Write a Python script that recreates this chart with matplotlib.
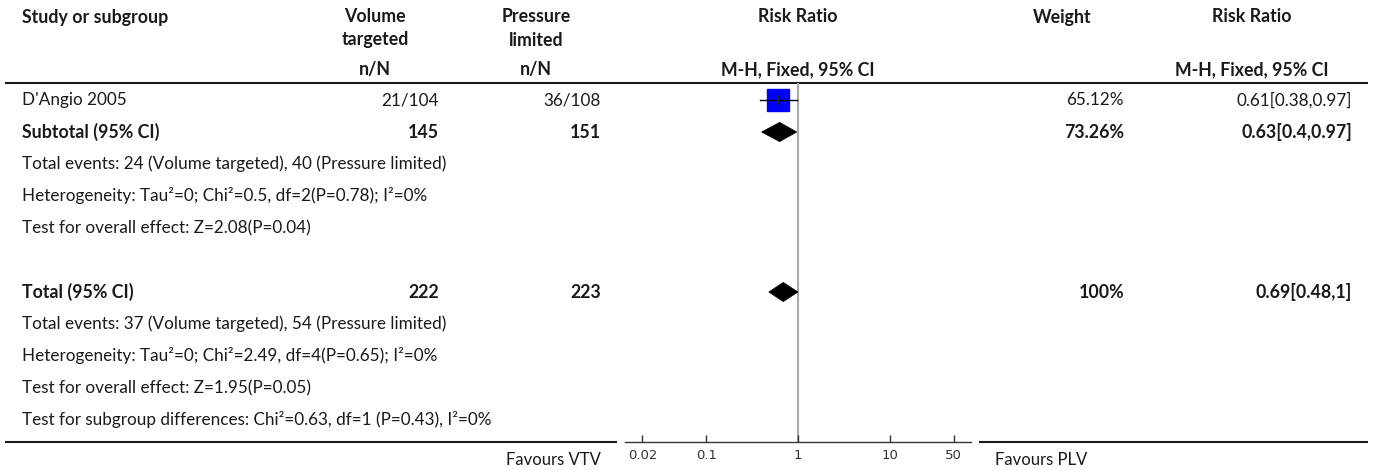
import matplotlib
matplotlib.use("Agg")
import matplotlib.pyplot as plt
from matplotlib.patches import Polygon
from matplotlib.ticker import NullLocator

# ---- data -------------------------------------------------------------
study_names = ["D'Angio 2005"]
vt_events = [21]
vt_totals = [104]
pl_events = [36]
pl_totals = [108]
study_weights = [65.12]
study_rr = [0.61]
study_lo = [0.38]
study_hi = [0.97]

subtotal_n = [145, 151]
subtotal_weight = 73.26
subtotal_rr, subtotal_lo, subtotal_hi = 0.63, 0.4, 0.97

total_n = [222, 223]
total_weight = 100
total_rr, total_lo, total_hi = 0.69, 0.48, 1

subtotal_notes = [
    "Total events: 24 (Volume targeted), 40 (Pressure limited)",
    "Heterogeneity: Tau\u00b2=0; Chi\u00b2=0.5, df=2(P=0.78); I\u00b2=0%",
    "Test for overall effect: Z=2.08(P=0.04)",
]
total_notes = [
    "Total events: 37 (Volume targeted), 54 (Pressure limited)",
    "Heterogeneity: Tau\u00b2=0; Chi\u00b2=2.49, df=4(P=0.65); I\u00b2=0%",
    "Test for overall effect: Z=1.95(P=0.05)",
    "Test for subgroup differences: Chi\u00b2=0.63, df=1 (P=0.43), I\u00b2=0%",
]

tick_values = [0.02, 0.1, 1, 10, 50]
tick_labels = ["0.02", "0.1", "1", "10", "50"]
favours_left = "Favours VTV"
favours_right = "Favours PLV"

# ---- layout -----------------------------------------------------------
W, H, DPI = 1375, 470, 100
ROW0, ROWH = 100, 32           # pixel y of first row, row pitch
TXT = "#1a1a1a"
FS = 12.3
FS_BOLD = 12.8

plt.rcParams["font.family"] = ["Lato", "DejaVu Sans"]

fig = plt.figure(figsize=(W / DPI, H / DPI), dpi=DPI)
fig.patch.set_facecolor("white")

canvas = fig.add_axes([0, 0, 1, 1])
canvas.set_xlim(0, W)
canvas.set_ylim(H, 0)
canvas.axis("off")


def row_y(i):
    return ROW0 + ROWH * i


def put(x, y, s, ha="left", bold=False):
    canvas.text(x, y, s, ha=ha, va="center", color=TXT,
                fontsize=FS_BOLD if bold else FS,
                fontweight="bold" if bold else "normal")


X_LEFT = 22
X_VT_HEAD, X_VT_VAL = 375, 439
X_PL_HEAD, X_PL_VAL = 536, 601
X_RR_HEAD = 798
X_W_HEAD, X_W_VAL = 1062, 1124
X_CI_HEAD, X_CI_VAL = 1252, 1352

# header
put(X_LEFT, 17, "Study or subgroup", bold=True)
put(X_VT_HEAD, 17, "Volume", ha="center", bold=True)
put(X_VT_HEAD, 40, "targeted", ha="center", bold=True)
put(X_PL_HEAD, 17, "Pressure", ha="center", bold=True)
put(X_PL_HEAD, 40, "limited", ha="center", bold=True)
put(X_RR_HEAD, 17, "Risk Ratio", ha="center", bold=True)
put(X_W_HEAD, 17, "Weight", ha="center", bold=True)
put(X_CI_HEAD, 17, "Risk Ratio", ha="center", bold=True)
put(X_VT_HEAD, 70, "n/N", ha="center", bold=True)
put(X_PL_HEAD, 70, "n/N", ha="center", bold=True)
put(X_RR_HEAD, 70, "M-H, Fixed, 95% CI", ha="center", bold=True)
put(X_CI_HEAD, 70, "M-H, Fixed, 95% CI", ha="center", bold=True)

canvas.plot([5, 1368], [83, 83], color=TXT, lw=1.5, solid_capstyle="butt")

# study rows
row = 0
for k, name in enumerate(study_names):
    y = row_y(row)
    put(X_LEFT, y, name)
    put(X_VT_VAL, y, f"{vt_events[k]}/{vt_totals[k]}", ha="right")
    put(X_PL_VAL, y, f"{pl_events[k]}/{pl_totals[k]}", ha="right")
    put(X_W_VAL, y, f"{study_weights[k]:.2f}%", ha="right")
    put(X_CI_VAL, y, f"{study_rr[k]:g}[{study_lo[k]:g},{study_hi[k]:g}]", ha="right")
    row += 1

subtotal_row = row
y = row_y(row)
put(X_LEFT, y, "Subtotal (95% CI)", bold=True)
put(X_VT_VAL, y, str(subtotal_n[0]), ha="right", bold=True)
put(X_PL_VAL, y, str(subtotal_n[1]), ha="right", bold=True)
put(X_W_VAL, y, f"{subtotal_weight:.2f}%", ha="right", bold=True)
put(X_CI_VAL, y, f"{subtotal_rr:g}[{subtotal_lo:g},{subtotal_hi:g}]", ha="right", bold=True)
row += 1
for s in subtotal_notes:
    put(X_LEFT, row_y(row), s)
    row += 1
row += 1

total_row = row
y = row_y(row)
put(X_LEFT, y, "Total (95% CI)", bold=True)
put(X_VT_VAL, y, str(total_n[0]), ha="right", bold=True)
put(X_PL_VAL, y, str(total_n[1]), ha="right", bold=True)
put(X_W_VAL, y, f"{total_weight:g}%", ha="right", bold=True)
put(X_CI_VAL, y, f"{total_rr:g}[{total_lo:g},{total_hi:g}]", ha="right", bold=True)
row += 1
for s in total_notes:
    put(X_LEFT, row_y(row), s)
    row += 1

# bottom rule, broken around the scale
AX_Y = 442
canvas.plot([5, 617], [AX_Y, AX_Y], color=TXT, lw=1.5, solid_capstyle="butt")
canvas.plot([979, 1368], [AX_Y, AX_Y], color=TXT, lw=1.5, solid_capstyle="butt")

# ---- forest panel -----------------------------------------------------
FX0, FX1, FY_TOP = 625, 971, 83
ax = fig.add_axes([FX0 / W, 1 - AX_Y / H, (FX1 - FX0) / W, (AX_Y - FY_TOP) / H])
ax.patch.set_alpha(0)
ax.set_xscale("log")
ax.set_xlim(10 ** -1.89, 10 ** 1.89)
ax.set_ylim((AX_Y - ROW0) / ROWH, (FY_TOP - ROW0) / ROWH)
for side in ("top", "left", "right"):
    ax.spines[side].set_visible(False)
ax.spines["bottom"].set_color("#333333")
ax.spines["bottom"].set_linewidth(1.0)
ax.set_yticks([])
ax.set_xticks(tick_values)
ax.set_xticklabels(tick_labels, fontfamily="DejaVu Sans", fontsize=9.5, color=TXT)
ax.xaxis.set_minor_locator(NullLocator())
ax.tick_params(axis="x", direction="in", length=5, width=1, colors="#333333", pad=5)

ax.axvline(1, color="#aaaaaa", lw=1.5, zorder=1)

for k in range(len(study_names)):
    y = k
    side = 15.5 * (study_weights[k] / 65.12) ** 0.5
    ax.plot(study_rr[k], y, marker="s", ms=side, mfc="#0000ff", mec="#0000ff",
            ls="none", zorder=3)
    ax.plot([study_lo[k], study_hi[k]], [y, y], color="black", lw=1.0, zorder=4)
    ax.plot([study_rr[k], study_rr[k]], [y - 0.14, y + 0.14], color="#222222",
            lw=1.5, zorder=4)


def diamond(rr, lo, hi, y, h=0.3):
    ax.add_patch(Polygon([(lo, y), (rr, y - h), (hi, y), (rr, y + h)],
                         closed=True, facecolor="black", edgecolor="black",
                         lw=0.5, zorder=3))


diamond(subtotal_rr, subtotal_lo, subtotal_hi, subtotal_row)
diamond(total_rr, total_lo, total_hi, total_row)

# direction labels
fig.text(601 / W, 1 - 460 / H, favours_left, ha="right", va="center",
         fontsize=12, color=TXT)
fig.text(995 / W, 1 - 460 / H, favours_right, ha="left", va="center",
         fontsize=12, color=TXT)

fig.savefig("out.png", dpi=DPI, facecolor="white")
